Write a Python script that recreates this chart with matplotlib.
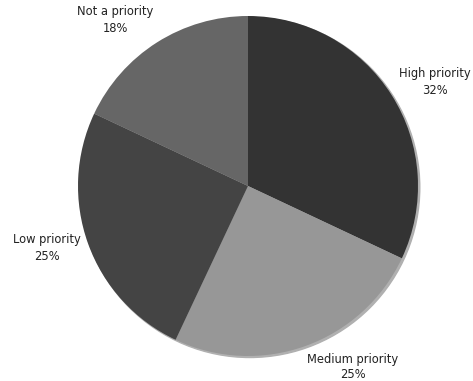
import matplotlib
matplotlib.use("Agg")
import matplotlib.pyplot as plt
from matplotlib.patches import Circle
import numpy as np

categories = ["High priority", "Medium priority", "Low priority", "Not a priority"]
values = [32, 25, 25, 18]
colors = ["#333333", "#979797", "#444444", "#666666"]

W, H = 473, 381
cx, cy, R = 248, 186, 170  # pixel geometry

fig = plt.figure(figsize=(W / 100, H / 100), dpi=100)
ax = fig.add_axes([0, 0, 1, 1])

# subtle shadow
ax.add_patch(Circle((1.8 / R, -1.5 / R), 1.0, color="#b0b0b0", zorder=0))

wedges, _ = ax.pie(values, colors=colors, startangle=90, counterclock=False,
                   radius=1.0, center=(0, 0), frame=True,
                   wedgeprops=dict(linewidth=0))
ax.set_xlim(-cx / R, (W - cx) / R)
ax.set_ylim(-(H - cy) / R, cy / R)
ax.set_aspect("auto")
ax.axis("off")

# label positions (pixel offsets from center), styling only
label_pos = [(187, 104), (105, -181), (-201, -62), (-133, 166)]
for cat, v, (dx, dy) in zip(categories, values, label_pos):
    ax.text(dx / R, dy / R, f"{cat}\n{v}%", ha="center", va="center",
            fontsize=8.3, family="DejaVu Sans", color="#222222", linespacing=1.3)

fig.savefig("out.png", dpi=100)
